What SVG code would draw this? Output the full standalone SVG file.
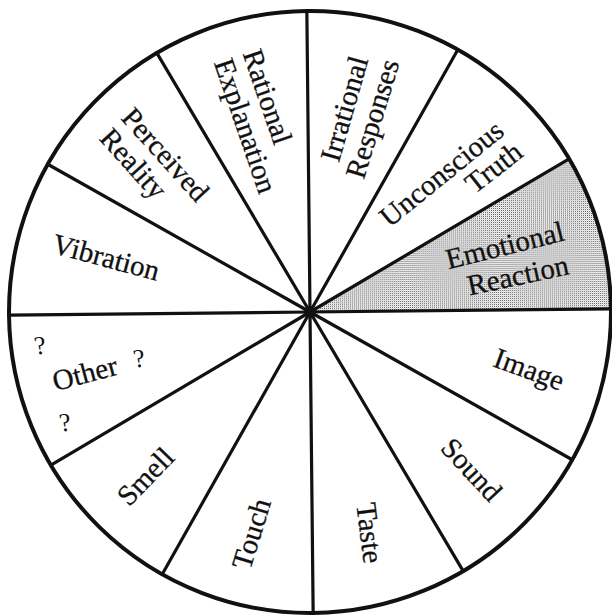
<svg xmlns="http://www.w3.org/2000/svg" width="612" height="616" viewBox="0 0 612 616">
  <defs>
    <pattern id="dots" width="2" height="2" patternUnits="userSpaceOnUse">
      <rect width="2" height="2" fill="#ffffff"/>
      <rect x="0" y="0" width="1" height="1" fill="#555555"/>
      <rect x="1" y="1" width="1" height="1" fill="#d4d4d4"/>
    </pattern>
    <style>
      .lbl { font-family: "Liberation Serif", "Times New Roman", serif; font-size: 29px; fill: #111; stroke: #111; stroke-width: 0.3; text-anchor: middle; }
      .q { font-family: "Liberation Serif", "Times New Roman", serif; font-size: 26px; fill: #111; text-anchor: middle; }
      .spoke { stroke: #111; stroke-width: 3.2; stroke-linecap: round; }
    </style>
  </defs>
  <rect width="612" height="616" fill="#ffffff"/>

  <g id="wheel" transform="rotate(-0.6 310 312)">
    <path id="shaded-sector" d="M310,312 L611,312 A301,301 0 0 0 570.7,161.5 Z" fill="url(#dots)"/>
    <circle cx="310" cy="312" r="301" fill="none" stroke="#111" stroke-width="4"/>
  </g>

  <g id="connectors" transform="rotate(-0.6 310 312)">
    <line class="spoke" x1="310" y1="312" x2="611" y2="312"/>
    <line class="spoke" x1="310" y1="312" x2="570.7" y2="161.5"/>
    <line class="spoke" x1="310" y1="312" x2="460.5" y2="51.3"/>
    <line class="spoke" x1="310" y1="312" x2="310" y2="11"/>
    <line class="spoke" x1="310" y1="312" x2="159.5" y2="51.3"/>
    <line class="spoke" x1="310" y1="312" x2="49.3" y2="161.5"/>
    <line class="spoke" x1="310" y1="312" x2="9" y2="312"/>
    <line class="spoke" x1="310" y1="312" x2="49.3" y2="462.5"/>
    <line class="spoke" x1="310" y1="312" x2="159.5" y2="572.7"/>
    <line class="spoke" x1="310" y1="312" x2="310" y2="613"/>
    <line class="spoke" x1="310" y1="312" x2="460.5" y2="572.7"/>
    <line class="spoke" x1="310" y1="312" x2="570.7" y2="462.5"/>
    <circle cx="310" cy="312" r="6" fill="#111"/>
  </g>

  <g id="emotional-reaction">
    <text class="lbl" transform="translate(505,246) rotate(-14)" y="9">Emotional</text>
    <text class="lbl" transform="translate(518,276) rotate(-12)" y="9">Reaction</text>
  </g>
  <g id="unconscious-truth">
    <text class="lbl" transform="translate(442,174) rotate(-39)" y="9">Unconscious</text>
    <text class="lbl" transform="translate(494,168) rotate(-38)" y="9">Truth</text>
  </g>
  <g id="irrational-responses">
    <text class="lbl" transform="translate(345,109) rotate(-74)" y="9">Irrational</text>
    <text class="lbl" transform="translate(373,119) rotate(-73)" y="9">Responses</text>
  </g>
  <g id="rational-explanation">
    <text class="lbl" transform="translate(267,97) rotate(71)" y="9">Rational</text>
    <text class="lbl" transform="translate(245,126) rotate(71)" y="9">Explanation</text>
  </g>
  <g id="perceived-reality">
    <text class="lbl" transform="translate(165,155) rotate(48)" y="9">Perceived</text>
    <text class="lbl" transform="translate(133,164) rotate(48)" y="9">Reality</text>
  </g>
  <g id="vibration">
    <text class="lbl" transform="translate(106,258) rotate(15)" y="9">Vibration</text>
  </g>
  <g id="other">
    <text class="lbl" transform="translate(85,374) rotate(-15)" y="9">Other</text>
    <text class="q" transform="translate(40,345) rotate(-8)" y="9">?</text>
    <text class="q" transform="translate(139,358) rotate(-8)" y="9">?</text>
    <text class="q" transform="translate(65,422) rotate(-8)" y="9">?</text>
  </g>
  <g id="smell">
    <text class="lbl" transform="translate(146,477) rotate(-46)" y="9">Smell</text>
  </g>
  <g id="touch">
    <text class="lbl" transform="translate(252,534) rotate(-73)" y="9">Touch</text>
  </g>
  <g id="taste">
    <text class="lbl" transform="translate(369,533) rotate(83)" y="9">Taste</text>
  </g>
  <g id="sound">
    <text class="lbl" transform="translate(471,470) rotate(47)" y="9">Sound</text>
  </g>
  <g id="image">
    <text class="lbl" transform="translate(529,370) rotate(20)" y="9">Image</text>
  </g>
</svg>
